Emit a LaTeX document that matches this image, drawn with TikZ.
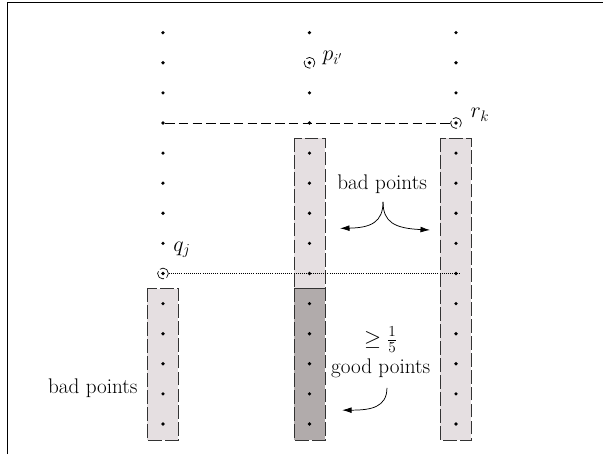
\documentclass[tikz,border=0pt]{standalone}
\usepackage{amsmath, amssymb}
\usepackage{xcolor}
\usetikzlibrary{arrows.meta}
\definecolor{bad-fill}{HTML}{E5DFE1}
\definecolor{good-fill}{HTML}{B1ABAB}

\begin{document}
\begin{tikzpicture}[
      every node/.style={font=\fontsize{20}{26.5}\selectfont},
      dot/.style={circle, fill=black, inner sep=0pt, minimum size=0.12cm},
      ring/.style={circle, draw, inner sep=0pt, minimum size=0.36cm,
                   line width=0.65pt, dash pattern=on 11pt off 2.5pt},
      strip/.style={draw=black!80, line width=0.8pt, dash pattern=on 13pt off 3pt},
      curvearrow/.style={-{Latex[length=9pt, width=5.5pt]}, line width=0.7pt}]
    \useasboundingbox (-5.415,1.086) rectangle (14.618,-13.997);
    \draw[line width=1.2pt] (-5.16,-13.997) -- (-5.16,1.0) -- (14.618,1.0);

    \draw[strip, fill=bad-fill]  (-0.515,-8.5) rectangle (0.515,-13.53);
    \draw[strip, fill=bad-fill]  (4.352,-3.5) rectangle (5.382,-8.5);
    \draw[strip, fill=good-fill] (4.352,-8.5) rectangle (5.382,-13.53);
    \draw[strip, fill=bad-fill]  (9.219,-3.5) rectangle (10.249,-13.53);

    \foreach \c/\x in {a/0, b/4.867, c/9.734}
      \foreach \k in {0,...,13}
        \node[dot] (\c\k) at (\x,-\k) {};

    \node[ring] (pI) at (b1) {};
    \node[ring] (rK) at (c3) {};
    \node[ring] (qJ) at (a8) {};
    \node[anchor=west] (pIlab) at ([shift={(0.31,0.15)}]b1) {$p_{i'}$};
    \node[anchor=west] (rKlab) at ([shift={(0.36,0.27)}]c3) {$r_k$};
    \node[anchor=west] (qJlab) at ([shift={(0.22,0.78)}]a8) {$q_j$};

    \draw[line width=0.7pt, dash pattern=on 9pt off 4pt] (a3) -- (rK);
    \coordinate (qend) at ([xshift=0.15cm]c8);
    \draw[line width=0.6pt, dash pattern=on 0.8pt off 1.2pt] (qJ) -- (qend);

    \node (badR) at (7.28,-5.03) {bad points};
    \node[anchor=east] (badL) at (-0.72,-11.80) {bad points};
    \node[align=center] (good) at (7.23,-10.62) {$\geq \frac{1}{5}$\\good points};

    \coordinate (fork) at (7.31,-5.62);
    \coordinate (forkL) at (5.88,-6.5);
    \coordinate (forkR) at (8.87,-6.555);
    \draw[curvearrow] (fork) .. controls (7.31,-6.3) and (6.9,-6.48) .. (forkL);
    \draw[curvearrow] (fork) .. controls (7.31,-6.3) and (7.7,-6.5) .. (forkR);
    \coordinate (goodtop) at (7.44,-11.80);
    \coordinate (goodend) at (5.95,-12.54);
    \draw[curvearrow] (goodtop) .. controls (7.44,-12.45) and (6.9,-12.54) .. (goodend);
  \end{tikzpicture}
\end{document}
